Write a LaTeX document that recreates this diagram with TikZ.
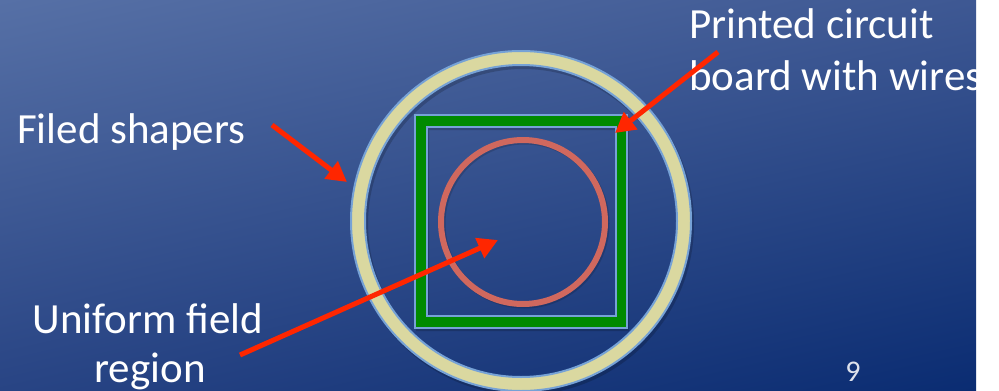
\documentclass[tikz,border=0pt]{standalone}
\usepackage{fontspec}
\setmainfont{Carlito}
\usetikzlibrary{arrows.meta,shadings}
\definecolor{bgTL}{RGB}{86,112,166}
\definecolor{bgTR}{RGB}{62,88,147}
\definecolor{bgBL}{RGB}{40,68,132}
\definecolor{bgBR}{RGB}{10,44,114}
\definecolor{ringcream}{RGB}{218,216,160}
\definecolor{edgeblue}{RGB}{118,162,214}
\definecolor{pcbgreen}{RGB}{0,138,0}
\definecolor{salmon}{RGB}{208,104,94}
\definecolor{arrowred}{RGB}{255,38,0}
\definecolor{numgray}{RGB}{222,226,236}
\tikzset{
  label text/.style={text=white, inner sep=0pt, font=\fontsize{43}{50}\selectfont},
  redarrow/.style={draw=arrowred, line width=5pt, -{Triangle[length=20pt,width=21pt]}},
}
\begin{document}
\begin{tikzpicture}[x=1pt,y=-1pt]
\useasboundingbox (0,0) rectangle (999,391);
\fill[white] (0,0) rectangle (999,391);
\begin{scope}
\clip (0,0) rectangle (976,391);
\shade[upper left=bgTL, upper right=bgTR, lower left=bgBL, lower right=bgBR] (0,0) rectangle (976,391);
% shadows
\fill[black, opacity=0.18, even odd rule] (523,224) circle (171) (523,224) circle (155);
\fill[black, opacity=0.18, even odd rule] (416,117) rectangle (629,331) (429,130) rectangle (617,318);
% field shaper ring
\draw[edgeblue, line width=2pt, fill=ringcream, even odd rule] (521,221) circle (170) (521,221) circle (156);
% PCB square
\draw[edgeblue, line width=2pt, fill=pcbgreen, even odd rule] (414.5,114.5) rectangle (627,328) (427,127) rectangle (615.5,315.5);
% uniform field region circle
\draw[black, opacity=0.15, line width=6pt] (524.5,223.5) circle (82);
\draw[salmon, line width=6pt] (523,222) circle (82);
% texts
\node[label text, anchor=base west] (fs) at (17,143) {Filed shapers};
\node[label text, anchor=base west] (pc1) at (689,38) {Printed circuit};
\node[label text, anchor=base west] (pc2) at (689,90) {board with wires};
\node[label text, anchor=base] (uf1) at (148,333) {Uniform field};
\node[label text, anchor=base] (uf2) at (150,382) {region};
\node[text=numgray, inner sep=0pt, anchor=base, font=\fontsize{30}{36}\selectfont] (num) at (853,381) {9};
% arrow endpoints
\coordinate (fsA) at (272,125);
\coordinate (fsB) at (347,182);
\coordinate (pcA) at (718,52);
\coordinate (pcB) at (615,133);
\coordinate (ufA) at (240,355);
\coordinate (ufB) at (498,240);
\draw[redarrow] (fsA) -- (fsB);
\draw[redarrow] (pcA) -- (pcB);
\draw[redarrow] (ufA) -- (ufB);
\end{scope}
\end{tikzpicture}
\end{document}
